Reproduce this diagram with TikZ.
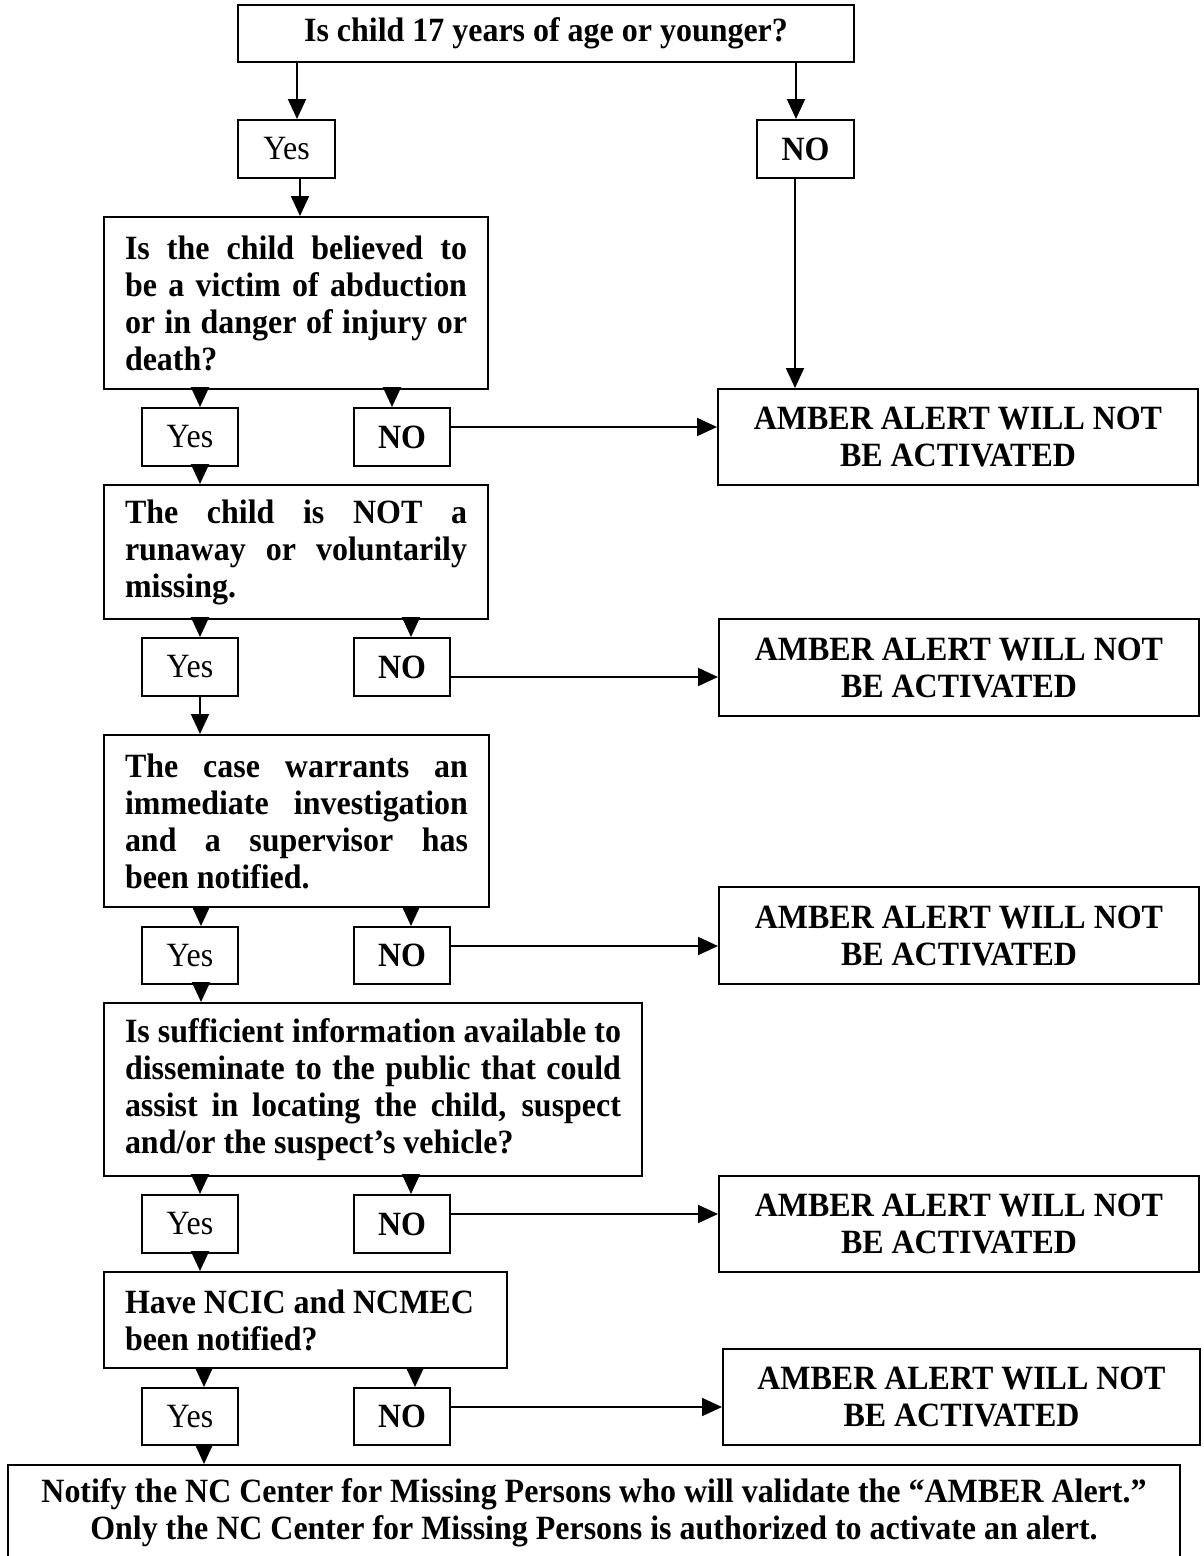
\documentclass[tikz,border=0pt]{standalone}
\usepackage{fontspec}
\setmainfont{Liberation Serif}[FakeStretch=0.94]
\usetikzlibrary{arrows.meta}
\newcommand{\jline}[1]{\makebox[\linewidth][s]{#1}\\}
\begin{document}
\begin{tikzpicture}[x=1pt,y=-1pt,
  bx/.style={draw,line width=2pt,inner sep=0pt,font=\fontsize{34}{37}\selectfont\bfseries},
  yesbox/.style={draw,line width=2pt,inner sep=0pt,minimum width=96pt,minimum height=58pt,font=\fontsize{34}{37}\selectfont},
  nobox/.style={yesbox,font=\fontsize{34}{37}\selectfont\bfseries},
  amber/.style={bx,minimum width=480pt,minimum height=96pt,align=center},
  arr/.style={line width=2pt,-{Triangle[width=18pt,length=20pt]}}]
\fill[white] (0,0) rectangle (1204,1556);
\useasboundingbox (0,0) rectangle (1204,1556);
\clip (0,0) rectangle (1204,1556);

% top question
\node[bx,minimum width=616pt,minimum height=57pt] (top) at (546,33.5) {Is child 17 years of age or younger?};
\node[yesbox,minimum width=97pt] (yes1) at (286.5,149) {Yes};
\node[nobox,minimum width=97pt] (no1) at (805.5,149) {NO};

% Q1
\node[bx,minimum width=384pt,minimum height=172pt] (q1) at (296,303) {\parbox{342pt}{%
\jline{Is the child believed to}
\jline{be a victim of abduction}
\jline{or in danger of injury or}
death?}};
\node[yesbox] (yes2) at (190,437) {Yes};
\node[nobox] (no2) at (402,437) {NO};
\node[amber] (a1) at (958,437) {AMBER ALERT WILL NOT\\BE ACTIVATED};

% Q2
\node[bx,minimum width=384pt,minimum height=134pt] (q2) at (296,552) {\parbox{342pt}{%
\jline{The child is NOT a}
\jline{runaway or voluntarily}
missing.}};
\node[yesbox] (yes3) at (190,667) {Yes};
\node[nobox] (no3) at (402,667) {NO};
\node[amber,minimum height=97pt] (a2) at (959,667.5) {AMBER ALERT WILL NOT\\BE ACTIVATED};

% Q3
\node[bx,minimum width=385pt,minimum height=172pt] (q3) at (296.5,821) {\parbox{343pt}{%
\jline{The case warrants an}
\jline{immediate investigation}
\jline{and a supervisor has}
been notified.}};
\node[yesbox,minimum height=57pt] (yes4) at (190,955.5) {Yes};
\node[nobox,minimum height=57pt] (no4) at (402,955.5) {NO};
\node[amber,minimum height=97pt] (a3) at (959,935.5) {AMBER ALERT WILL NOT\\BE ACTIVATED};

% Q4
\node[bx,minimum width=538pt,minimum height=173pt] (q4) at (373,1089.5) {\parbox{496pt}{%
\jline{Is sufficient information available to}
\jline{disseminate to the public that could}
\jline{assist in locating the child, suspect}
and/or the suspect’s vehicle?}};
\node[yesbox] (yes5) at (190,1224) {Yes};
\node[nobox] (no5) at (402,1224) {NO};
\node[amber] (a4) at (959,1224) {AMBER ALERT WILL NOT\\BE ACTIVATED};

% Q5
\node[bx,minimum width=403pt,minimum height=96pt] (q5) at (305.5,1320) {\parbox{361pt}{\raggedright
Have NCIC and NCMEC\\been notified?}};
\node[yesbox,minimum height=57pt] (yes6) at (190,1416.5) {Yes};
\node[nobox,minimum height=57pt] (no6) at (402,1416.5) {NO};
\node[amber,minimum width=477pt] (a5) at (961.5,1397) {AMBER ALERT WILL NOT\\BE ACTIVATED};

% final
\node[bx,minimum width=1172pt,minimum height=95pt,align=center] (fin) at (594,1512.5) {Notify the NC Center for Missing Persons who will validate the “AMBER Alert.”\\Only the NC Center for Missing Persons is authorized to activate an alert.};

% connectors
\draw[arr] (297,0 |- top.south) -- (297,0 |- yes1.north);
\draw[arr] (796,0 |- top.south) -- (796,0 |- no1.north);
\draw[arr] (300,0 |- yes1.south) -- (300,0 |- q1.north);
\draw[arr] (795,0 |- no1.south) -- (795,0 |- a1.north);

\draw[arr] (200,0 |- q1.south) -- (200,0 |- yes2.north);
\draw[arr] (392,0 |- q1.south) -- (392,0 |- no2.north);
\draw[arr] (no2.east |- 0,427) -- (a1.west |- 0,427);
\draw[arr] (200,0 |- yes2.south) -- (200,0 |- q2.north);

\draw[arr] (200,0 |- q2.south) -- (200,0 |- yes3.north);
\draw[arr] (411,0 |- q2.south) -- (411,0 |- no3.north);
\draw[arr] (no3.east |- 0,677) -- (a2.west |- 0,677);
\draw[arr] (200,0 |- yes3.south) -- (200,0 |- q3.north);

\draw[arr] (201,0 |- q3.south) -- (201,0 |- yes4.north);
\draw[arr] (411,0 |- q3.south) -- (411,0 |- no4.north);
\draw[arr] (no4.east |- 0,946) -- (a3.west |- 0,946);
\draw[arr] (201,0 |- yes4.south) -- (201,0 |- q4.north);

\draw[arr] (200,0 |- q4.south) -- (200,0 |- yes5.north);
\draw[arr] (411,0 |- q4.south) -- (411,0 |- no5.north);
\draw[arr] (no5.east |- 0,1214) -- (a4.west |- 0,1214);
\draw[arr] (200,0 |- yes5.south) -- (200,0 |- q5.north);

\draw[arr] (204,0 |- q5.south) -- (204,0 |- yes6.north);
\draw[arr] (415,0 |- q5.south) -- (415,0 |- no6.north);
\draw[arr] (no6.east |- 0,1407) -- (a5.west |- 0,1407);
\draw[arr] (204,0 |- yes6.south) -- (204,0 |- fin.north);
\end{tikzpicture}
\end{document}
